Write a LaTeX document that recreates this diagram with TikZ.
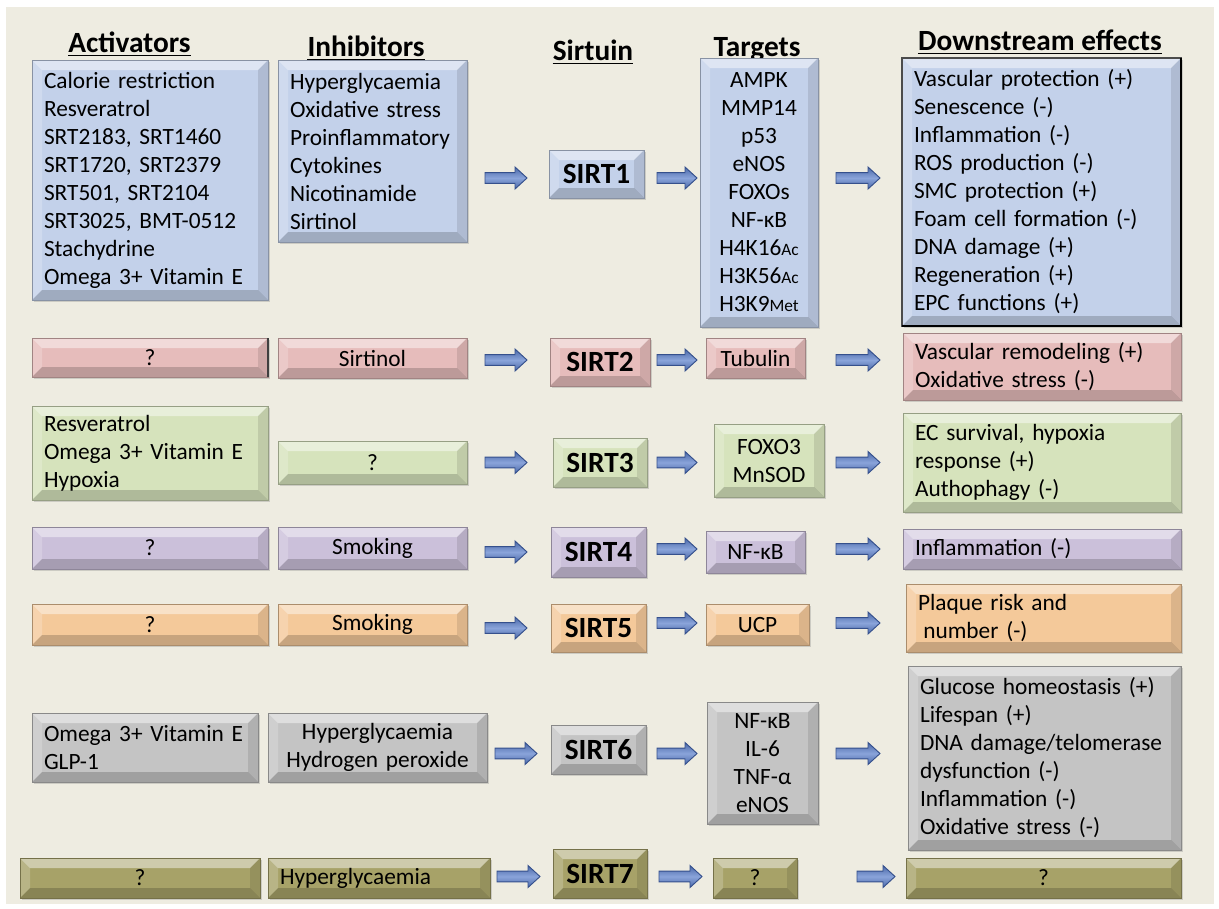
\documentclass[tikz,border=0pt]{standalone}
\usepackage{fontspec}
\setmainfont{Carlito}
\usetikzlibrary{calc,shadows}
\definecolor{bg}{HTML}{EEECE1}
\definecolor{blueF}{HTML}{C3D1EA}
\definecolor{pinkF}{HTML}{E6BCBB}
\definecolor{greenF}{HTML}{D6E3BC}
\definecolor{purpF}{HTML}{CBC0DA}
\definecolor{orangeF}{HTML}{F4C99A}
\definecolor{grayF}{HTML}{C4C4C4}
\definecolor{oliveF}{HTML}{A7A268}
\definecolor{arrowA}{HTML}{4A68A8}
\definecolor{arrowB}{HTML}{8AA4DA}
\definecolor{arrowD}{HTML}{35508C}
\newcommand\Bx[7]{\node[#2, minimum width={(#5-#3)*0.75pt}, minimum height={(#6-#4)*0.75pt}, text width={(#5-#3-24)*0.75pt}] (#1) at ({(#3+#5)/2},{(#4+#6)/2}) {#7};}
\newcommand\sm[1]{{\fontsize{13}{15}\selectfont #1}}
\tikzset{
 bx/.style={rectangle, inner sep=0pt, outer sep=0pt, fill=#1, draw=#1!70!black, line width=0.5pt,
  font=\fontsize{17.5}{21}\selectfont,
  drop shadow={opacity=0.3, shadow xshift=1.2pt, shadow yshift=-1.8pt},
  path picture={
   \fill[white,opacity=0.45] (path picture bounding box.north west) -- (path picture bounding box.north east) -- ([xshift=-7.5pt,yshift=-7.5pt]path picture bounding box.north east) -- ([xshift=7.5pt,yshift=-7.5pt]path picture bounding box.north west) -- cycle;
   \fill[white,opacity=0.2] (path picture bounding box.north west) -- ([xshift=7.5pt,yshift=-7.5pt]path picture bounding box.north west) -- ([xshift=7.5pt,yshift=7.5pt]path picture bounding box.south west) -- (path picture bounding box.south west) -- cycle;
   \fill[black,opacity=0.10] (path picture bounding box.north east) -- (path picture bounding box.south east) -- ([xshift=-7.5pt,yshift=7.5pt]path picture bounding box.south east) -- ([xshift=-7.5pt,yshift=-7.5pt]path picture bounding box.north east) -- cycle;
   \fill[black,opacity=0.18] (path picture bounding box.south west) -- (path picture bounding box.south east) -- ([xshift=-7.5pt,yshift=7.5pt]path picture bounding box.south east) -- ([xshift=7.5pt,yshift=7.5pt]path picture bounding box.south west) -- cycle;
  }},
 L/.style={align=left},
 C/.style={align=center},
 sirt/.style={font=\bfseries\fontsize{22}{26}\selectfont, align=center},
 hdr/.style={font=\bfseries\fontsize{22}{26}\selectfont, anchor=base, inner sep=0pt},
 uline/.style={line width=1.1pt},
 barrow/.style={draw=arrowD, line width=0.7pt, top color=arrowA, bottom color=arrowA, middle color=arrowB,
  to path={let \p1=(\tikztostart), \p2=(\tikztotarget) in
   (\x1,\y1+4pt) -- (\x2-9pt,\y1+4pt) -- (\x2-9pt,\y1+8.25pt) -- (\x2,\y1) -- (\x2-9pt,\y1-8.25pt) -- (\x2-9pt,\y1-4pt) -- (\x1,\y1-4pt) -- cycle}},
}
\begin{document}
\begin{tikzpicture}[x=0.75pt,y=-0.75pt]
\useasboundingbox (0,0) rectangle (1219,908);
\fill[white] (0,0) rectangle (1219,908);
\fill[bg] (6,7) rectangle (1214,904);

% headers
\node[hdr] (hAct) at (129.5,52) {Activators};
\node[hdr] (hInh) at (366,56) {Inhibitors};
\node[hdr] (hSir) at (593,60) {Sirtuin};
\node[hdr] (hTgt) at (757,56) {Targets};
\node[hdr] (hDn) at (1040,50) {Downstream effects};
\foreach \h in {hAct,hInh,hSir,hTgt,hDn}
  \draw[uline] ([yshift=-2.6pt]\h.base west) -- ([yshift=-2.6pt]\h.base east);

% row 1
\Bx{act1}{bx=blueF,L}{32}{60}{268}{300}{Calorie restriction\\Resveratrol\\SRT2183, SRT1460\\SRT1720, SRT2379\\SRT501, SRT2104\\SRT3025, BMT-0512\\Stachydrine\\Omega 3+ Vitamin E}
\Bx{inh1}{bx=blueF,L}{278}{60}{467}{242}{Hyperglycaemia\\Oxidative stress\\Proinflammatory\\Cytokines\\Nicotinamide\\Sirtinol}
\Bx{sirt1}{bx=blueF,sirt}{549}{150}{644}{198}{SIRT1}
\Bx{tgt1}{bx=blueF,C}{700}{58}{818}{327}{AMPK\\MMP14\\p53\\eNOS\\FOXOs\\NF-κB\\H4K16\sm{Ac}\\H3K56\sm{Ac}\\H3K9\sm{Met}}
\Bx{dn1}{bx=blueF,L,draw=black!70,line width=1pt}{902}{58}{1181}{326}{Vascular protection (+)\\Senescence (-)\\Inflammation (-)\\ROS production (-)\\SMC protection (+)\\Foam cell formation (-)\\DNA damage (+)\\Regeneration (+)\\EPC functions (+)}
\draw[black,line width=1.3pt] (dn1.north east) -- (dn1.south east) -- (dn1.south west);

% row 2
\Bx{act2}{bx=pinkF,C}{32}{338}{268}{377}{?}
\draw[black!75,line width=1.2pt] (act2.north east) -- (act2.south east);
\Bx{inh2}{bx=pinkF,C}{278}{338}{467}{378}{Sirtinol}
\Bx{sirt2}{bx=pinkF,sirt}{550}{338}{650}{386}{SIRT2}
\Bx{tgt2}{bx=pinkF,C}{706}{338}{805}{378}{Tubulin}
\Bx{dn2}{bx=pinkF,L}{903}{333}{1181}{400}{Vascular remodeling (+)\\Oxidative stress (-)}

% row 3
\Bx{act3}{bx=greenF,L}{32}{406}{268}{500}{Resveratrol\\Omega 3+ Vitamin E\\Hypoxia}
\Bx{inh3}{bx=greenF,C}{278}{441}{467}{484}{?}
\Bx{sirt3}{bx=greenF,sirt}{553}{438}{647}{487}{SIRT3}
\Bx{tgt3}{bx=greenF,C}{714}{424}{824}{497}{FOXO3\\MnSOD}
\Bx{dn3}{bx=greenF,L}{903}{413}{1181}{512}{EC survival, hypoxia\\response (+)\\Authophagy (-)}

% row 4
\Bx{act4}{bx=purpF,C}{32}{527}{268}{569}{?}
\Bx{inh4}{bx=purpF,C}{278}{527}{467}{569}{Smoking}
\Bx{sirt4}{bx=purpF,sirt}{551}{527}{646}{577}{SIRT4}
\Bx{tgt4}{bx=purpF,C}{706}{531}{805}{573}{NF-κB}
\Bx{dn4}{bx=purpF,L}{903}{529}{1181}{569}{Inflammation (-)}

% row 5
\Bx{act5}{bx=orangeF,C}{32}{604}{268}{645}{?}
\Bx{inh5}{bx=orangeF,C}{278}{604}{467}{645}{Smoking}
\Bx{sirt5}{bx=orangeF,sirt}{551}{604}{646}{652}{SIRT5}
\Bx{tgt5}{bx=orangeF,C}{706}{604}{809}{645}{UCP}
\Bx{dn5}{bx=orangeF,L}{906}{584}{1181}{652}{Plaque risk and\\\hspace*{4pt}number (-)}

% row 6
\Bx{act6}{bx=grayF,L}{32}{713}{258}{782}{Omega 3+ Vitamin E\\GLP-1}
\Bx{inh6}{bx=grayF,C}{268}{713}{487}{782}{Hyperglycaemia\\Hydrogen peroxide}
\Bx{sirt6}{bx=grayF,sirt}{551}{725}{646}{774}{SIRT6}
\Bx{tgt6}{bx=grayF,C}{707}{702}{818}{824}{NF-κB\\IL-6\\TNF-α\\eNOS}
\Bx{dn6}{bx=grayF,L}{908}{666}{1181}{850}{Glucose homeostasis (+)\\Lifespan (+)\\DNA damage/telomerase\\dysfunction (-)\\Inflammation (-)\\Oxidative stress (-)}

% row 7
\Bx{act7}{bx=oliveF,C}{20}{858}{260}{898}{?}
\Bx{inh7}{bx=oliveF,L}{268}{858}{490}{898}{Hyperglycaemia}
\Bx{sirt7}{bx=oliveF,sirt}{553}{849}{647}{898}{SIRT7}
\Bx{tgt7}{bx=oliveF,C}{713}{858}{797}{898}{?}
\Bx{dn7}{bx=oliveF,C}{906}{858}{1181}{898}{?}

% arrows
\draw[barrow] ($(inh1.east |- sirt1.center)+(18,4)$) to ($(sirt1.west)+(-22,4)$);
\draw[barrow] ($(sirt1.east)+(13,4)$) to ($(tgt1.west |- sirt1.center)+(-3,4)$);
\draw[barrow] ($(tgt1.east |- sirt1.center)+(18,4)$) to ($(dn1.west |- sirt1.center)+(-22,4)$);

\draw[barrow] ($(inh2.east |- sirt2.center)+(18,-2)$) to ($(sirt2.west)+(-23,-2)$);
\draw[barrow] ($(sirt2.east)+(7,-2)$) to ($(tgt2.west |- sirt2.center)+(-9,-2)$);
\draw[barrow] ($(tgt2.east |- sirt2.center)+(31,-2)$) to ($(dn2.west |- sirt2.center)+(-23,-2)$);

\draw[barrow] ($(inh3.east |- sirt3.center)+(18,0)$) to ($(sirt3.west)+(-26,0)$);
\draw[barrow] ($(sirt3.east)+(10,0)$) to ($(tgt3.west |- sirt3.center)+(-17,0)$);
\draw[barrow] ($(tgt3.east |- sirt3.center)+(12,0)$) to ($(dn3.west |- sirt3.center)+(-23,0)$);

\draw[barrow] ($(inh4.east |- sirt4.center)+(18,0)$) to ($(sirt4.west)+(-24,0)$);
\draw[barrow] ($(sirt4.east)+(11,-3)$) to ($(tgt4.west |- sirt4.center)+(-9,-3)$);
\draw[barrow] ($(tgt4.east |- sirt4.center)+(31,-3)$) to ($(dn4.west |- sirt4.center)+(-23,-3)$);

\draw[barrow] ($(inh5.east |- sirt5.center)+(18,0)$) to ($(sirt5.west)+(-24,0)$);
\draw[barrow] ($(sirt5.east)+(11,-5)$) to ($(tgt5.west |- sirt5.center)+(-9,-5)$);
\draw[barrow] ($(tgt5.east |- sirt5.center)+(27,-5)$) to ($(dn5.west |- sirt5.center)+(-26,-5)$);

\draw[barrow] ($(inh6.east |- sirt6.center)+(8,4)$) to ($(sirt6.west)+(-14,4)$);
\draw[barrow] ($(sirt6.east)+(11,4)$) to ($(tgt6.west |- sirt6.center)+(-10,4)$);
\draw[barrow] ($(tgt6.east |- sirt6.center)+(18,4)$) to ($(dn6.west |- sirt6.center)+(-28,4)$);

\draw[barrow] ($(inh7.east |- sirt7.center)+(7,3)$) to ($(sirt7.west)+(-13,3)$);
\draw[barrow] ($(sirt7.east)+(12,3)$) to ($(tgt7.west |- sirt7.center)+(-11,3)$);
\draw[barrow] ($(tgt7.east |- sirt7.center)+(60,3)$) to ($(dn7.west |- sirt7.center)+(-11,3)$);
\end{tikzpicture}
\end{document}
